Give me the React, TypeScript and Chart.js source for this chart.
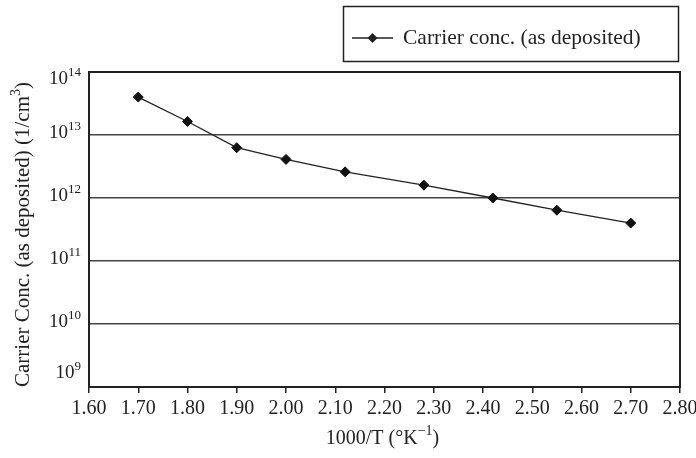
import React, { useEffect, useRef } from "react";
import { Chart, registerables } from "chart.js";

Chart.register(...registerables);

// ---- data ----
const xValues = [1.7, 1.8, 1.9, 2.0, 2.12, 2.28, 2.42, 2.55, 2.7];
const carrierConc = [4.0e13, 1.64e13, 6.3e12, 4.1e12, 2.6e12, 1.6e12, 1.0e12, 6.4e11, 4.0e11];
const yTickExponents = [9, 10, 11, 12, 13, 14];
const xMin = 1.6;
const xMax = 2.8;
const xStep = 0.1;
const seriesLabel = "Carrier conc. (as deposited)";
const yTitleParts = [{ t: "Carrier Conc. (as deposited) (1/cm" }, { t: "3", sup: true }, { t: ")" }];
const xTitleParts = [{ t: "1000/T (°K" }, { t: "\u22121", sup: true }, { t: ")" }];

const FONT = "'Liberation Serif', 'DejaVu Serif', serif";
const INK = "#222";

type Seg = { t: string; sup?: boolean };

function drawRich(
  ctx: CanvasRenderingContext2D,
  segs: Seg[],
  x: number,
  y: number,
  align: "left" | "center" | "right",
  size: number
) {
  const supSize = Math.round(size * 0.68);
  const widths = segs.map((s) => {
    ctx.font = `${s.sup ? supSize : size}px ${FONT}`;
    return ctx.measureText(s.t).width;
  });
  const total = widths.reduce((a, b) => a + b, 0);
  let cx = align === "left" ? x : align === "center" ? x - total / 2 : x - total;
  ctx.textAlign = "left";
  ctx.textBaseline = "alphabetic";
  const base = y + size * 0.33;
  segs.forEach((s, i) => {
    ctx.font = `${s.sup ? supSize : size}px ${FONT}`;
    ctx.fillText(s.t, cx, s.sup ? base - size * 0.42 : base);
    cx += widths[i];
  });
}

const decorPlugin = {
  id: "decor",
  afterDraw(chart: any) {
    const { ctx, chartArea: a, scales } = chart;
    const y = scales.y;
    ctx.save();
    ctx.fillStyle = INK;
    ctx.strokeStyle = INK;

    // frame
    ctx.lineWidth = 2;
    ctx.strokeRect(a.left, a.top, a.right - a.left, a.bottom - a.top);

    // y tick labels with superscripts
    yTickExponents.forEach((e) => {
      let py = y.getPixelForValue(Math.pow(10, e)) - 3;
      py = Math.min(Math.max(py, a.top + 6), a.bottom - 15);
      drawRich(ctx, [{ t: "10" }, { t: String(e), sup: true }], a.left - 8, py, "right", 19);
    });

    // y title
    ctx.save();
    ctx.translate(22, (a.top + a.bottom) / 2 + 5);
    ctx.rotate(-Math.PI / 2);
    drawRich(ctx, yTitleParts, 0, 0, "center", 21);
    ctx.restore();

    // x title
    drawRich(ctx, xTitleParts, (a.left + a.right) / 2 - 2, 437, "center", 20);

    // legend
    const lx = 343.5, ly = 6.5, lw = 335, lh = 55;
    ctx.lineWidth = 1.5;
    ctx.strokeRect(lx, ly, lw, lh);
    const cy = ly + lh / 2 + 4;
    ctx.lineWidth = 1.4;
    ctx.beginPath();
    ctx.moveTo(352, cy);
    ctx.lineTo(393, cy);
    ctx.stroke();
    ctx.beginPath();
    ctx.moveTo(372.5, cy - 5);
    ctx.lineTo(377.5, cy);
    ctx.lineTo(372.5, cy + 5);
    ctx.lineTo(367.5, cy);
    ctx.closePath();
    ctx.fill();
    ctx.font = `21.5px ${FONT}`;
    ctx.textAlign = "left";
    ctx.textBaseline = "middle";
    ctx.fillText(chart.data.datasets[0].label, 403, cy);

    ctx.restore();
  },
};

export default function App() {
  const canvasRef = useRef<HTMLCanvasElement | null>(null);

  useEffect(() => {
    if (!canvasRef.current) return;
    const chart = new Chart(canvasRef.current, {
      type: "line",
      data: {
        datasets: [
          {
            label: seriesLabel,
            data: xValues.map((x, i) => ({ x, y: carrierConc[i] })),
            borderColor: INK,
            borderWidth: 1.3,
            backgroundColor: "#111",
            pointBackgroundColor: "#111",
            pointBorderColor: "#111",
            pointStyle: "rectRot",
            pointRadius: 5,
            pointBorderWidth: 1,
            tension: 0,
            fill: false,
          },
        ],
      },
      options: {
        animation: false,
        responsive: true,
        maintainAspectRatio: false,
        layout: { padding: { top: 72, right: 16, left: 0, bottom: 0 } },
        plugins: {
          legend: { display: false },
          tooltip: { enabled: false },
          title: { display: false },
        },
        scales: {
          x: {
            type: "linear",
            min: xMin,
            max: xMax,
            ticks: {
              stepSize: xStep,
              callback: (v: any) => Number(v).toFixed(2),
              font: { family: FONT, size: 20 },
              color: INK,
              padding: 4,
              maxRotation: 0,
              autoSkip: false,
            },
            grid: {
              drawOnChartArea: false,
              drawTicks: true,
              tickLength: 6,
              color: INK,
              lineWidth: 1.5,
            },
            border: { display: true, color: INK, width: 2 },
            afterFit: (scale: any) => {
              scale.height = 71;
              scale.paddingRight = 0;
              scale.paddingLeft = 0;
            },
          },
          y: {
            type: "logarithmic",
            min: Math.pow(10, yTickExponents[0]),
            max: Math.pow(10, yTickExponents[yTickExponents.length - 1]),
            afterBuildTicks: (scale: any) => {
              scale.ticks = yTickExponents.map((e) => ({ value: Math.pow(10, e) }));
            },
            ticks: { display: false },
            grid: { color: "#444", lineWidth: 1.5, drawTicks: false },
            border: { display: true, color: INK, width: 2 },
            afterFit: (scale: any) => {
              scale.width = 89;
              scale.paddingTop = 0;
              scale.paddingBottom = 0;
            },
          },
        },
      },
      plugins: [decorPlugin],
    } as any);
    return () => chart.destroy();
  }, []);

  return (
    <div
      style={{
        position: "fixed",
        left: 0,
        top: 0,
        width: 696,
        height: 458,
        background: "#fff",
      }}
    >
      <canvas ref={canvasRef} />
    </div>
  );
}
